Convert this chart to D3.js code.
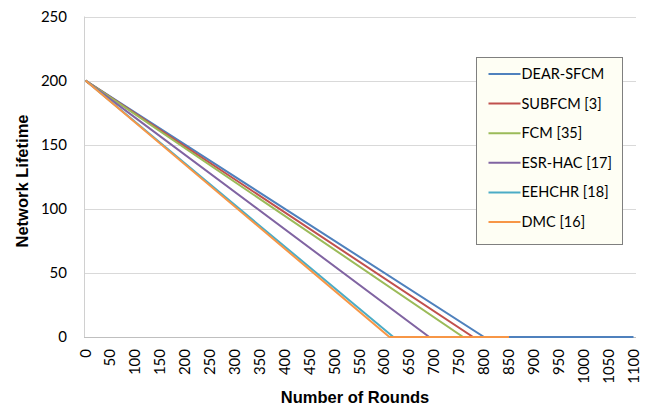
<!DOCTYPE html>
<html>
<head>
<meta charset="utf-8">
<script src="https://cdn.jsdelivr.net/npm/d3@7"></script>
<style>
  body { margin: 0; background: #fff; }
  svg { display: block; }
</style>
</head>
<body>
<div id="chart-holder"></div>
<script>
// ****DATA****
const seriesNames = ['DEAR-SFCM', 'SUBFCM [3]', 'FCM [35]', 'ESR-HAC [17]', 'EEHCHR [18]', 'DMC [16]'];
const seriesColors = ['#4F81BD', '#C0504D', '#9BBB59', '#8064A2', '#4BACC6', '#F79646'];
// rounds / lifetime pairs
const dearRounds = [0, 800, 1100];
const dearLife = [200, 0, 0];
const subfcmRounds = [0, 778, 850];
const subfcmLife = [200, 0, 0];
const fcmRounds = [0, 758, 850];
const fcmLife = [200, 0, 0];
const esrRounds = [0, 690, 850];
const esrLife = [200, 0, 0];
const eehchrRounds = [0, 618, 850];
const eehchrLife = [200, 0, 0];
const dmcRounds = [0, 610, 850];
const dmcLife = [200, 0, 0];
const xTicks = d3.range(0, 1101, 50);
const yTicks = [0, 50, 100, 150, 200, 250];

const allRounds = [dearRounds, subfcmRounds, fcmRounds, esrRounds, eehchrRounds, dmcRounds];
const allLife = [dearLife, subfcmLife, fcmLife, esrLife, eehchrLife, dmcLife];
const series = seriesNames.map(function(name, i) {
    return { name: name, color: seriesColors[i],
             values: allRounds[i].map(function(r, j) { return { x: r, y: allLife[i][j] }; }) };
});

// ****SVG CANVAS****
const width = 646;
const height = 409;
const plotLeft = 84;
const plotRight = 636;
const plotTop = 16.5;
const plotBottom = 337;

const svg = d3.select('#chart-holder')
    .append('svg')
    .attr('width', width)
    .attr('height', height);

const tickFont = 'Lato, "Open Sans", sans-serif';
const titleFont = '"Liberation Sans", Arial, sans-serif';

// ****SCALES****
const xScale = d3.scaleLinear().domain([0, 1100]).range([85.5, 633.5]);
const yScale = d3.scaleLinear().domain([0, 250]).range([plotBottom, plotTop]);

// gridlines
svg.append('g')
    .selectAll('line')
    .data(yTicks.filter(function(d) { return d > 0; }))
    .enter()
    .append('line')
    .attr('x1', plotLeft)
    .attr('x2', plotRight)
    .attr('y1', function(d) { return Math.round(yScale(d)) + 0.5; })
    .attr('y2', function(d) { return Math.round(yScale(d)) + 0.5; })
    .attr('stroke', '#d9d9d9')
    .attr('stroke-width', 1);

// y axis line
svg.append('line')
    .attr('x1', plotLeft + 0.5).attr('x2', plotLeft + 0.5)
    .attr('y1', plotTop).attr('y2', plotBottom)
    .attr('stroke', '#d0d0d0');

// y axis labels
const yAxis = svg.append('g')
    .attr('transform', `translate(${plotLeft}, 0)`)
    .call(d3.axisLeft(yScale).tickValues(yTicks).tickSize(0).tickPadding(17));
yAxis.select('.domain').remove();
yAxis.selectAll('text')
    .style('font-family', tickFont)
    .style('font-size', '15px')
    .attr('fill', '#000');

// x axis line
svg.append('line')
    .attr('x1', plotLeft).attr('x2', plotRight)
    .attr('y1', plotBottom + 0.5).attr('y2', plotBottom + 0.5)
    .attr('stroke', '#bfbfbf');

// x axis labels (rotated)
svg.append('g')
    .selectAll('text')
    .data(xTicks)
    .enter()
    .append('text')
    .attr('transform', function(d) { return `translate(${xScale(d) + 5}, 349) rotate(-90)`; })
    .attr('text-anchor', 'end')
    .style('font-family', tickFont)
    .style('font-size', '15px')
    .text(function(d) { return d; });

// axis titles
svg.append('text')
    .attr('x', 355)
    .attr('y', 403)
    .attr('text-anchor', 'middle')
    .style('font-family', titleFont)
    .style('font-weight', 'bold')
    .style('font-size', '16.5px')
    .text('Number of Rounds');

svg.append('text')
    .attr('transform', 'translate(28, 181) rotate(-90)')
    .attr('text-anchor', 'middle')
    .style('font-family', titleFont)
    .style('font-weight', 'bold')
    .style('font-size', '16.5px')
    .text('Network Lifetime');

// ****PLOT THE DATA****
const line = d3.line()
    .x(function(d) { return xScale(d.x); })
    .y(function(d) { return yScale(d.y); });

svg.append('g')
    .selectAll('path')
    .data(series)
    .enter()
    .append('path')
    .attr('d', function(d) { return line(d.values); })
    .attr('fill', 'none')
    .attr('stroke', function(d) { return d.color; })
    .attr('stroke-width', 2);

// ****LEGEND****
const legend = svg.append('g').attr('transform', 'translate(476.5, 57.5)');
legend.append('rect')
    .attr('width', 146)
    .attr('height', 187)
    .attr('fill', '#fefef4')
    .attr('stroke', '#7f7f7f')
    .attr('stroke-width', 1);

const legendItems = legend.selectAll('.item')
    .data(series)
    .enter()
    .append('g')
    .attr('class', 'item')
    .attr('transform', function(d, i) { return `translate(0, ${16.5 + i * 29.6})`; });
legendItems.append('line')
    .attr('x1', 12).attr('x2', 44)
    .attr('stroke', function(d) { return d.color; })
    .attr('stroke-width', 2);
legendItems.append('text')
    .attr('x', 45)
    .attr('y', 5)
    .style('font-family', tickFont)
    .style('font-size', '14.5px')
    .text(function(d) { return d.name; });
</script>
</body>
</html>
